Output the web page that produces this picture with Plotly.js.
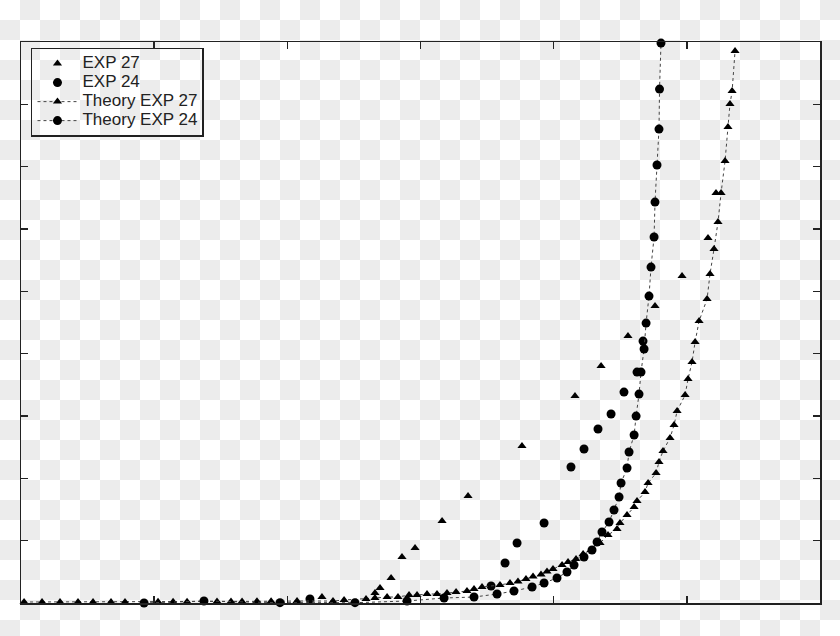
<!DOCTYPE html>
<html>
<head>
<meta charset="utf-8">
<script src="https://cdn.plot.ly/plotly-3.0.1.min.js"></script>
<style>
  html, body { margin: 0; padding: 0; background-color: #ffffff; }
  #chart { width: 840px; height: 636px; }
</style>
</head>
<body>
<div id="chart"></div>
<script>
// ---- data ----
const exp27X = [22.60, 26.58, 26.96, 27.79, 28.61, 29.59, 31.62, 33.57, 37.62, 41.60, 43.56, 45.58, 47.61, 49.64, 51.59, 52.19];
const exp27Y = [0.96, 1.60, 2.41, 4.01, 7.38, 8.82, 13.15, 17.16, 25.18, 33.20, 38.01, 42.83, 47.64, 52.45, 58.55, 65.76];

const exp24X = [21.70, 35.30, 36.35, 37.25, 39.28, 41.30, 42.28, 43.33, 44.31, 45.28, 46.26, 46.71];
const exp24Y = [0.64, 2.73, 6.42, 9.62, 12.83, 21.82, 24.70, 27.91, 30.32, 33.84, 37.05, 42.02];

const theory27X = [0.23, 1.58, 2.93, 4.28, 5.41, 6.76, 7.81, 10.29, 11.42, 12.47, 14.72, 15.77, 16.60, 17.72, 18.78,
  20.73, 23.43, 24.26, 25.91, 26.58, 27.49, 28.31, 29.14, 29.74, 30.49, 31.24, 31.99, 32.67, 33.49, 34.02, 34.62,
  35.97, 36.72, 37.32, 37.92, 38.45, 39.05, 39.50, 39.95, 40.63, 41.08, 41.68, 42.21, 42.81, 43.48, 44.08, 44.76,
  44.98, 45.51, 46.04, 46.26, 46.86, 47.09, 47.69, 47.91, 48.21, 48.74, 49.04, 49.27, 49.87, 50.09, 50.39, 50.62,
  50.92, 51.52, 51.74, 52.04, 52.34, 52.57, 52.87, 53.09, 53.24, 53.40, 53.62];
const theory27Y = [0.16, 0.16, 0.16, 0.16, 0.16, 0.16, 0.16, 0.20, 0.20, 0.20, 0.24, 0.24, 0.24, 0.28, 0.28,
  0.32, 0.32, 0.48, 0.64, 0.80, 0.96, 0.96, 1.28, 1.28, 1.44, 1.44, 1.60, 1.76, 1.92, 2.25, 2.57,
  2.89, 3.21, 3.45, 3.85, 4.25, 4.57, 5.05, 5.45, 6.10, 6.58, 7.06, 7.86, 8.50, 9.62, 10.91, 11.87,
  12.83, 14.12, 15.40, 16.36, 17.80, 19.25, 20.85, 22.62, 24.38, 26.47, 28.55, 30.80, 33.36, 35.93, 38.66, 41.86,
  45.23, 48.76, 52.77, 56.78, 61.11, 65.76, 70.90, 76.35, 80.04, 82.12, 88.54];

const theory24X = [9.24, 13.74, 19.45, 25.08, 28.99, 31.77, 34.02, 35.75, 37.02, 38.38, 39.28, 40.25, 41.00, 41.53,
  42.28, 42.88, 43.26, 43.63, 44.16, 44.53, 44.91, 45.06, 45.51, 45.66, 46.04, 46.19, 46.41, 46.56, 46.79, 46.94,
  47.16, 47.31, 47.54, 47.61, 47.76, 47.91, 47.95, 48.06];
const theory24Y = [0.00, 0.32, 0.05, 0.05, 0.32, 0.80, 0.96, 1.44, 1.92, 2.57, 3.21, 4.01, 4.97, 6.10,
  7.38, 8.50, 9.78, 11.39, 12.99, 14.92, 17.00, 19.25, 21.65, 24.22, 26.95, 29.99, 33.52, 37.05, 40.74, 44.91,
  49.24, 53.89, 58.71, 64.32, 70.26, 76.03, 82.45, 89.83];

const seriesNames = ['EXP 27', 'EXP 24', 'Theory EXP 27', 'Theory EXP 24'];

// ---- chart ----
const W = 840, H = 636;
const M = { l: 21, r: 20, t: 42, b: 33 };
const black = '#000000';
const dotLine = { color: '#444444', width: 1, dash: '3px,3px' };
const legendName = (s) => '<span style="font-size:17px">' + s + '</span>';

// transparent-canvas checkerboard backdrop (20px squares)
const checker = "data:image/svg+xml," + encodeURIComponent(
  "<svg xmlns='http://www.w3.org/2000/svg' width='" + W + "' height='" + H + "'>" +
  "<defs><pattern id='p' width='40' height='40' patternUnits='userSpaceOnUse'>" +
  "<rect width='40' height='40' fill='#ffffff'/>" +
  "<rect x='20' y='0' width='20' height='20' fill='#ececec'/>" +
  "<rect x='0' y='20' width='20' height='20' fill='#ececec'/>" +
  "</pattern></defs><rect width='" + W + "' height='" + H + "' fill='url(#p)'/></svg>");
const pw = W - M.l - M.r, ph = H - M.t - M.b;

const traces = [
  { x: exp27X, y: exp27Y, name: legendName(seriesNames[0]), mode: 'markers', type: 'scatter', cliponaxis: false,
    marker: { symbol: 'triangle-up', size: 8, color: black } },
  { x: exp24X, y: exp24Y, name: legendName(seriesNames[1]), mode: 'markers', type: 'scatter', cliponaxis: false,
    marker: { symbol: 'circle', size: 9, color: black } },
  { x: theory27X, y: theory27Y, name: legendName(seriesNames[2]), mode: 'lines+markers', type: 'scatter', cliponaxis: false,
    line: dotLine, marker: { symbol: 'triangle-up', size: 8, color: black } },
  { x: theory24X, y: theory24Y, name: legendName(seriesNames[3]), mode: 'lines+markers', type: 'scatter', cliponaxis: false,
    line: dotLine, marker: { symbol: 'circle', size: 9, color: black } }
];

const axisCommon = {
  showgrid: false, zeroline: false, showticklabels: false,
  ticks: 'inside', ticklen: 7, tickwidth: 1.5, tickcolor: '#222',
  showline: true, linecolor: '#222', linewidth: 1.5, mirror: 'ticks',
  dtick: 10, tick0: 0
};

const layout = {
  width: W, height: H,
  margin: M,
  paper_bgcolor: '#ffffff',
  plot_bgcolor: 'rgba(0,0,0,0)',
  font: { family: 'Liberation Sans, Arial, sans-serif', size: 11, color: '#222' },
  xaxis: Object.assign({ range: [0, 60] }, axisCommon),
  yaxis: Object.assign({ range: [0, 90] }, axisCommon),
  images: [{
    source: checker, xref: 'paper', yref: 'paper',
    x: -M.l / pw, y: 1 + M.t / ph, sizex: W / pw, sizey: H / ph,
    xanchor: 'left', yanchor: 'top', sizing: 'stretch', layer: 'below'
  }],
  showlegend: true,
  legend: {
    x: 0.0125, y: 0.99, xanchor: 'left', yanchor: 'top',
    bgcolor: 'rgba(0,0,0,0)', bordercolor: '#222', borderwidth: 1.5,
    font: { family: 'Liberation Sans, Arial, sans-serif', size: 11, color: '#222' },
    itemwidth: 40
  }
};

Plotly.newPlot('chart', traces, layout, { staticPlot: true, displayModeBar: false });
</script>
</body>
</html>
